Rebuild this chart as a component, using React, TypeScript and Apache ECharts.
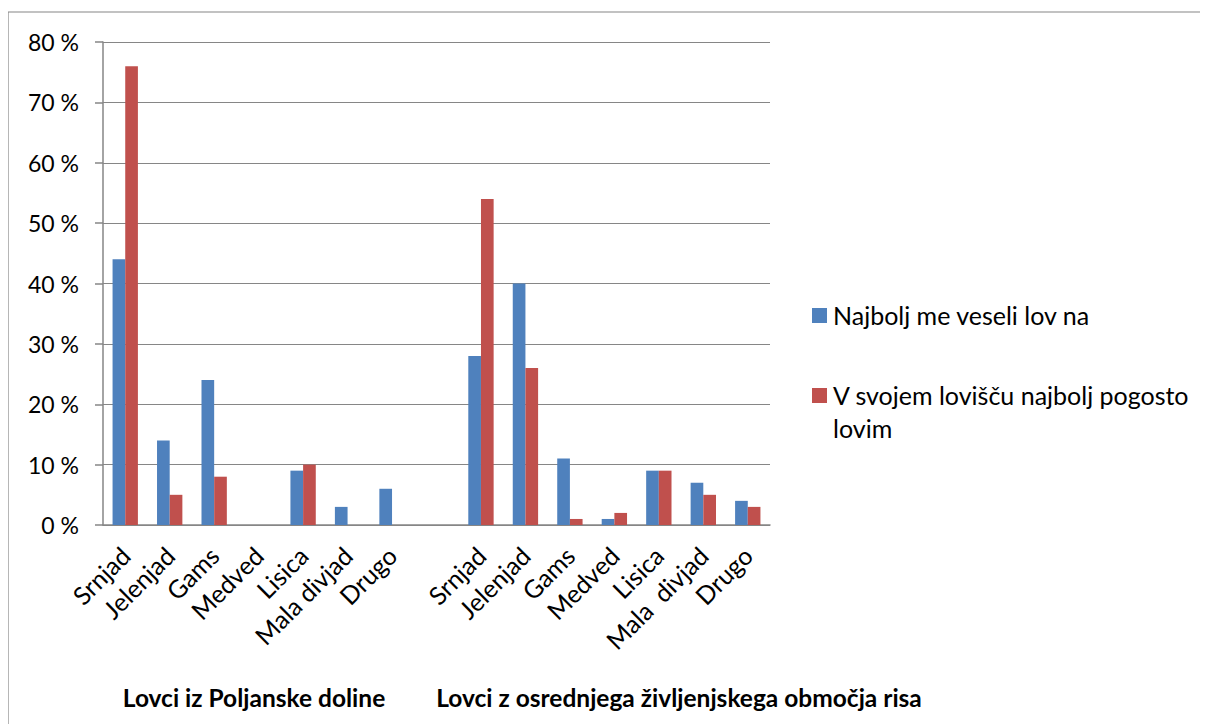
import React, { useEffect, useRef } from "react";
import * as echarts from "echarts";

const categories = [
  "Srnjad", "Jelenjad", "Gams", "Medved", "Lisica", "Mala divjad", "Drugo",
  "",
  "Srnjad", "Jelenjad", "Gams", "Medved", "Lisica", "Mala  divjad", "Drugo",
];
const seriesNames = ["Najbolj me veseli lov na", "V svojem lovišču najbolj pogosto lovim"];
const najraje = [44, 14, 24, 0, 9, 3, 6, null, 28, 40, 11, 1, 9, 7, 4];
const pogosto = [76, 5, 8, 0, 10, 0, 0, null, 54, 26, 1, 2, 9, 5, 3];
const groupLabels = ["Lovci iz Poljanske doline", "Lovci z osrednjega življenjskega območja risa"];

const FONT = "Lato, 'Noto Sans', sans-serif";

export default function App() {
  const ref = useRef<HTMLDivElement>(null);
  useEffect(() => {
    const chart = echarts.init(ref.current!, null, { renderer: "svg" });
    chart.setOption({
      animation: false,
      textStyle: { fontFamily: FONT },
      grid: { left: 95, right: 438, top: 34, bottom: 199, containLabel: false },
      xAxis: {
        type: "category",
        data: categories,
        axisLine: { lineStyle: { color: "#868686", width: 1.5 } },
        axisTick: { show: false },
        axisLabel: {
          rotate: 45,
          interval: 0,
          color: "#000",
          fontSize: 25,
          fontFamily: FONT,
          margin: 26,
        },
      },
      yAxis: {
        type: "value",
        min: 0,
        max: 80,
        interval: 10,
        axisLine: { show: true, lineStyle: { color: "#868686", width: 1.5 } },
        axisTick: { show: true, length: 8, lineStyle: { color: "#868686", width: 1.5 } },
        splitLine: { lineStyle: { color: "#868686", width: 1.2 } },
        axisLabel: {
          formatter: "{value} %",
          color: "#000",
          fontSize: 23,
          fontFamily: FONT,
          margin: 24,
        },
      },
      series: [
        {
          name: seriesNames[0],
          type: "bar",
          data: najraje,
          itemStyle: { color: "#4F81BD" },
          barGap: "0%",
          barCategoryGap: "43%",
        },
        {
          name: seriesNames[1],
          type: "bar",
          data: pogosto,
          itemStyle: { color: "#C0504D" },
          barGap: "0%",
          barCategoryGap: "43%",
        },
      ],
      graphic: [
        {
          type: "rect",
          shape: { x: 0, y: 4, width: 1400, height: 900 },
          style: { fill: "none", stroke: "#868686", lineWidth: 1.2 },
          silent: true,
        },
        {
          type: "rect",
          shape: { x: 804, y: 300, width: 15, height: 15 },
          style: { fill: "#4F81BD" },
        },
        {
          type: "text",
          x: 825,
          y: 307,
          style: {
            text: seriesNames[0],
            fontSize: 25,
            fontFamily: FONT,
            fill: "#000",
            verticalAlign: "middle",
          },
        },
        {
          type: "rect",
          shape: { x: 804, y: 380, width: 15, height: 15 },
          style: { fill: "#C0504D" },
        },
        {
          type: "text",
          x: 825,
          y: 370,
          style: {
            text: "V svojem lovišču najbolj pogosto\nlovim",
            fontSize: 25,
            lineHeight: 33,
            fontFamily: FONT,
            fill: "#000",
            verticalAlign: "top",
          },
        },
        {
          type: "text",
          x: 246,
          y: 689,
          style: {
            text: groupLabels[0],
            fontSize: 24.5,
            fontWeight: "bold",
            fontFamily: FONT,
            fill: "#000",
            align: "center",
            verticalAlign: "middle",
          },
        },
        {
          type: "text",
          x: 671,
          y: 689,
          style: {
            text: groupLabels[1],
            fontSize: 24.5,
            fontWeight: "bold",
            fontFamily: FONT,
            fill: "#000",
            align: "center",
            verticalAlign: "middle",
          },
        },
      ],
    });
    return () => chart.dispose();
  }, []);
  return <div ref={ref} style={{ width: 1200, height: 716 }} />;
}
